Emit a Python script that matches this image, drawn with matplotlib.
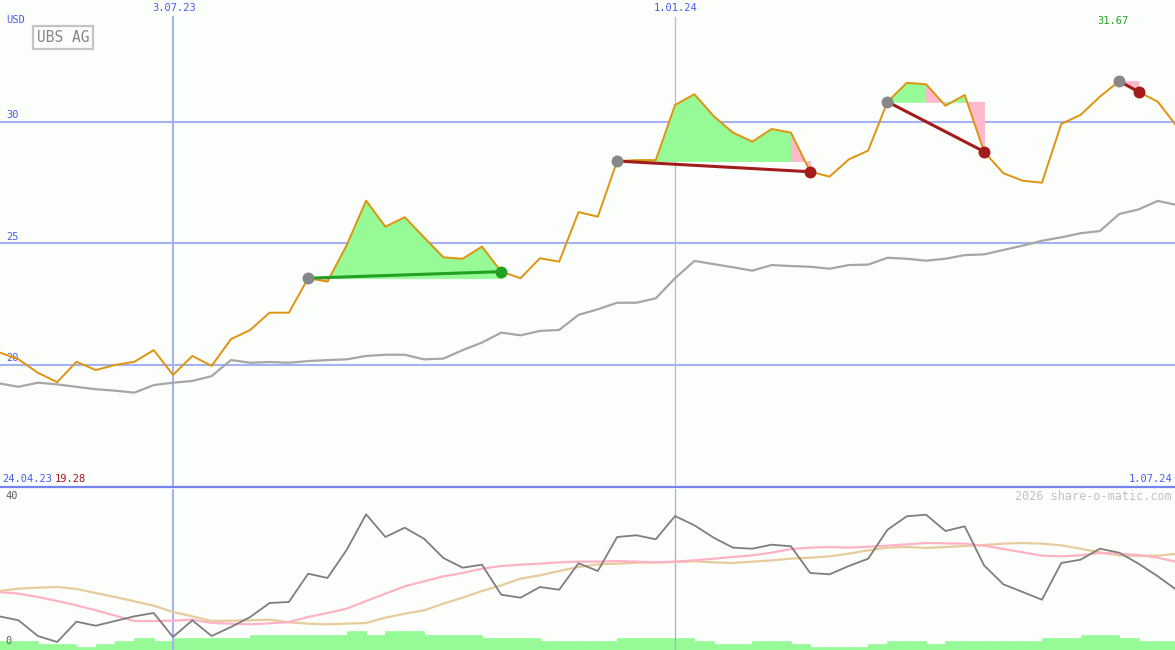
import matplotlib
matplotlib.use('Agg')
import matplotlib.pyplot as plt
import matplotlib.transforms as mtransforms
from matplotlib.lines import Line2D
import numpy as np

W, H = 1175, 650

# ---------------- data (weekly points) ----------------
price = [20.51, 20.22, 19.67, 19.28, 20.12, 19.78, 19.99, 20.12, 20.60, 19.58,
         20.36, 19.95, 21.05, 21.43, 22.14, 22.14, 23.56, 23.42, 24.93, 26.75,
         25.68, 26.07, 25.24, 24.42, 24.36, 24.86, 23.83, 23.56, 24.38, 24.24,
         26.28, 26.09, 28.38, 28.42, 28.42, 30.69, 31.13, 30.23, 29.55, 29.18,
         29.70, 29.55, 27.94, 27.74, 28.45, 28.81, 30.82, 31.60, 31.54, 30.66,
         31.10, 28.77, 27.88, 27.57, 27.49, 29.91, 30.28, 31.03, 31.67, 31.23,
         30.82, 29.79]

bench = [19.23, 19.09, 19.26, 19.19, 19.09, 18.99, 18.93, 18.85, 19.16, 19.26,
         19.33, 19.53, 20.19, 20.08, 20.11, 20.08, 20.15, 20.19, 20.22, 20.36,
         20.41, 20.41, 20.22, 20.25, 20.60, 20.91, 21.32, 21.21, 21.39, 21.43,
         22.05, 22.28, 22.55, 22.55, 22.73, 23.56, 24.27, 24.14, 24.01, 23.87,
         24.10, 24.06, 24.03, 23.95, 24.10, 24.12, 24.40, 24.36, 24.28, 24.36,
         24.51, 24.54, 24.72, 24.90, 25.10, 25.24, 25.41, 25.50, 26.20, 26.39,
         26.74, 26.57]

osc = [8.74, 7.64, 3.31, 1.66, 7.26, 6.15, 7.45, 8.74, 9.66, 3.03,
       7.64, 3.31, 5.79, 8.55, 12.41, 12.69, 20.50, 19.31, 27.12, 36.88,
       30.62, 33.19, 30.15, 24.83, 22.15, 22.98, 14.70, 13.88, 16.83, 16.08,
       23.37, 21.24, 30.62, 31.09, 29.99, 36.41, 33.85, 30.43, 27.67, 27.39,
       28.50, 28.06, 20.69, 20.33, 22.62, 24.63, 32.63, 36.33, 36.77, 32.28,
       33.57, 22.81, 17.57, 15.45, 13.32, 23.45, 24.36, 27.39, 26.29, 23.26,
       19.78, 15.92]

ma_fast = [15.45, 14.99, 14.07, 12.97, 11.77, 10.39, 8.92, 7.45, 7.45, 7.54,
           7.82, 6.90, 6.71, 6.53, 6.80, 7.17, 8.55, 9.66, 10.85, 12.97,
           14.99, 17.01, 18.39, 19.77, 20.69, 21.89, 22.62, 22.99, 23.26, 23.63,
           23.82, 23.82, 24.00, 23.82, 23.63, 23.82, 24.18, 24.64, 25.10, 25.56,
           26.30, 27.31, 27.68, 27.86, 27.68, 27.95, 28.23, 28.60, 28.97, 28.87,
           28.78, 28.23, 27.31, 26.39, 25.47, 25.29, 25.56, 26.21, 26.02, 25.66,
           24.92, 23.72]

ma_slow = [15.72, 16.37, 16.64, 16.83, 16.28, 15.17, 14.07, 12.87, 11.68, 9.93,
           8.74, 7.45, 7.54, 7.63, 7.82, 7.08, 6.71, 6.53, 6.71, 6.90,
           8.37, 9.47, 10.39, 12.23, 13.89, 15.72, 17.29, 19.13, 20.05, 21.24,
           22.34, 23.08, 23.26, 23.54, 23.63, 23.72, 23.91, 23.63, 23.45, 23.82,
           24.18, 24.64, 24.92, 25.29, 26.02, 26.94, 27.68, 27.86, 27.59, 27.86,
           28.14, 28.41, 28.78, 28.97, 28.78, 28.32, 27.40, 26.39, 25.56, 25.38,
           25.47, 26.02]

volume = [9, 9, 6, 6, 3, 6, 9, 12, 9, 12,
          12, 12, 12, 15, 15, 15, 15, 15, 19, 15,
          19, 19, 15, 15, 15, 12, 12, 12, 9, 9,
          9, 9, 12, 12, 12, 12, 9, 6, 6, 9,
          9, 6, 3, 3, 3, 6, 9, 9, 6, 9,
          9, 9, 9, 9, 12, 12, 15, 15, 12, 9,
          9]

price_ticks = [20, 25, 30]
osc_ticks = [0, 40]
date_idx = [9, 35]
date_labels = ['3.07.23', '1.01.24']
start_label, end_label = '24.04.23', '1.07.24'
trade_entry = [16, 32, 46, 58]
trade_exit = [26, 42, 51, 59]
trade_win = [True, False, False, False]
title = 'UBS AG'
currency = 'USD'
watermark = '2026 share-o-matic.com'

# ---------------- styles ----------------
BG = '#fcfefc'
GRID = '#a4b2f4'
SEP = '#7484ec'
LBL = '#4a5cf0'
ORANGE = '#de9410'
GREY_LINE = '#a6a6a6'
FILL_G = '#96fa96'
FILL_P = '#ffb8cc'
MONO = 'DejaVu Sans Mono'

x = np.arange(len(price))
xlim = (0.041, 60.89)

fig = plt.figure(figsize=(W / 100, H / 100), dpi=100, facecolor=BG)

# ---------------- main panel ----------------
ax = fig.add_axes([0, 163 / H, 1, 487 / H])
ax.set_facecolor(BG)
ax.set_xlim(*xlim)
ax.set_ylim(14.967, 35.008)
ax.axis('off')

for t in price_ticks:
    ax.axhline(t, color=GRID, lw=1.5, zorder=1)
    ax.text(0.005, t + 0.05, str(t), transform=mtransforms.blended_transform_factory(ax.transAxes, ax.transData),
            ha='left', va='bottom', fontsize=7.5, color=LBL, family=MONO, zorder=2)

ax.axvline(date_idx[0], ymin=0, ymax=1 - 17 / 487, color=GRID, lw=1.5, zorder=1)
ax.axvline(date_idx[1], ymin=0, ymax=1 - 17 / 487, color='#b0b8e6', lw=0.9, zorder=1)

# trade fills (per segment: green if the segment ends at/above entry, pink otherwise)
for e, xx in zip(trade_entry, trade_exit):
    lvl = price[e]
    for i in range(e, xx):
        col = FILL_G if price[i + 1] >= lvl else FILL_P
        ax.fill_between(x[i:i + 2], price[i:i + 2], lvl, facecolor=col, edgecolor=col,
                        lw=0.6, zorder=2)

ax.plot(x, bench, color=GREY_LINE, lw=1.6, zorder=3)
ax.plot(x, price, color=ORANGE, lw=1.4, zorder=4)

for e, xx, w in zip(trade_entry, trade_exit, trade_win):
    c = '#22a022' if w else '#a31c1c'
    ax.plot([x[e], x[xx]], [price[e], price[xx]], color=c, lw=2.2, zorder=5, solid_capstyle='butt')
    ax.plot(x[e], price[e], 'o', ms=8.6, color='#878787', zorder=6, mec='none')
    ax.plot(x[xx], price[xx], 'o', ms=8.6, color=c, zorder=6, mec='none')


def ptext(px, py, s, **kw):
    kw.setdefault('family', MONO)
    return fig.text(px / W, 1 - py / H, s, **kw)


ptext(6, 20, currency, fontsize=7.5, color=LBL, ha='left', va='center')
ptext(63, 37.5, title, fontsize=10.5, color='#848484', ha='center', va='center',
      bbox=dict(boxstyle='square,pad=0.25', fc=BG, ec='#c4c4c4', lw=1.6))
for idx, lab in zip(date_idx, date_labels):
    px = (idx - xlim[0]) / (xlim[1] - xlim[0]) * W
    ptext(px + 1, 8, lab, fontsize=7.5, color=LBL, ha='center', va='center')

imax = int(np.argmax(price))
pxmax = (imax - xlim[0]) / (xlim[1] - xlim[0]) * W
ptext(pxmax - 6, 21, f'{max(price):.2f}', fontsize=7.5, color='#22a022', ha='center', va='center')

ptext(2, 479, start_label, fontsize=7.5, color=LBL, ha='left', va='center')
ptext(55, 479, f'{min(price):.2f}', fontsize=7.5, color='#a81818', ha='left', va='center')
ptext(1172, 479, end_label, fontsize=7.5, color=LBL, ha='right', va='center')

fig.add_artist(Line2D([0, 1], [1 - 487 / H, 1 - 487 / H], color=SEP, lw=1.6, transform=fig.transFigure))

# ---------------- lower panel ----------------
rect = [0, 0, 1, 161 / H]
axv = fig.add_axes(rect)
axv.set_facecolor(BG)
axv.set_xlim(*xlim)
axv.set_ylim(0, 161)
axv.axis('off')
axv.bar(np.arange(len(volume)), volume, width=1.0, align='edge', color=FILL_G,
        edgecolor=FILL_G, lw=0.5, zorder=1)

axo = fig.add_axes(rect)
axo.patch.set_alpha(0)
axo.set_xlim(*xlim)
axo.set_ylim(-0.552, 43.86)
axo.axis('off')
axo.axvline(date_idx[0], color=GRID, lw=1.5, zorder=1)
axo.axvline(date_idx[1], color='#a4acdc', lw=0.9, zorder=1)
axo.plot(x, ma_slow, color='#e6cc9c', lw=1.6, zorder=2)
axo.plot(x, ma_fast, color='#ffb2c6', lw=1.6, zorder=3)
axo.plot(x, osc, color='#7e7e7e', lw=1.3, zorder=4)
for t in osc_ticks:
    axo.text(0.005, t + 0.6, str(t), transform=mtransforms.blended_transform_factory(axo.transAxes, axo.transData),
             ha='left', va='bottom', fontsize=7.5, color='#5a5a5a', family=MONO)

ptext(1172, 496, watermark, fontsize=8.5, color='#c2c2c2', ha='right', va='center')

fig.savefig('out.png', dpi=100, facecolor=BG)
